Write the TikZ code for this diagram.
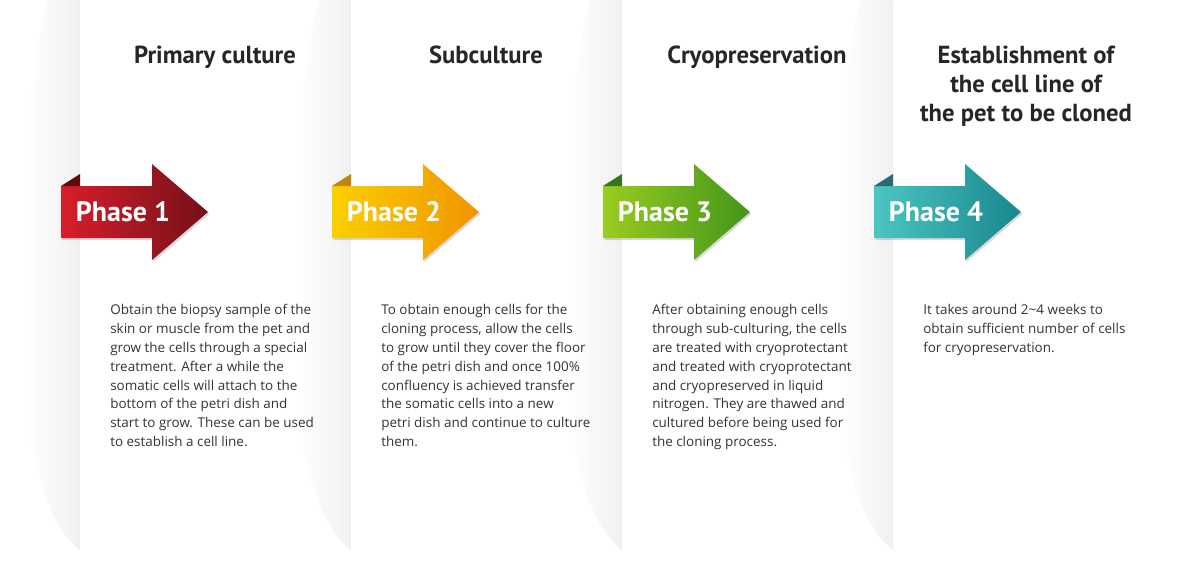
\documentclass[tikz,border=0pt]{standalone}
\usepackage{fontspec}
\setmainfont{Open Sans}
\newfontfamily\headfont{PT Sans}
\usetikzlibrary{shadows,fadings,positioning}

\definecolor{ph1a}{HTML}{D81E2B}
\definecolor{ph1b}{HTML}{741018}
\definecolor{ph1f}{HTML}{5E0B10}
\definecolor{ph2a}{HTML}{FAD000}
\definecolor{ph2b}{HTML}{F09400}
\definecolor{ph2f}{HTML}{C4820E}
\definecolor{ph3a}{HTML}{9ACC20}
\definecolor{ph3b}{HTML}{43961A}
\definecolor{ph3f}{HTML}{3A7418}
\definecolor{ph4a}{HTML}{4CC6C2}
\definecolor{ph4b}{HTML}{18878F}
\definecolor{ph4f}{HTML}{276C72}

\pgfdeclarehorizontalshading{panelshadow}{100bp}{color(0bp)=(white); color(30bp)=(white); color(70bp)=(black!5); color(100bp)=(black!12)}
\pgfdeclareverticalshading{tbmask}{100bp}{color(0bp)=(transparent!100); color(14bp)=(transparent!0); color(86bp)=(transparent!0); color(100bp)=(transparent!100)}
\pgfdeclarefading{fadetb}{\pgfuseshading{tbmask}}

\begin{document}
\begin{tikzpicture}[
    x=0.75pt, y=-0.75pt,
    panelshade/.style={shading=panelshadow, path fading=fadetb, draw=none},
    phaselabel/.style={text=white, font=\headfont\bfseries\fontsize{21}{24}\selectfont},
    titlelabel/.style={font=\headfont\bfseries\fontsize{18.5}{21.75}\selectfont, text=black!85, align=center},
    bodytext/.style={font=\fontsize{10.1}{14.15}\selectfont, text=black!80, align=left, anchor=north west, inner sep=0pt}
]
    \useasboundingbox (0,0) rectangle (1200,576);
    \fill[white] (0,0) rectangle (1200,576);

    % Panel shadows
    \foreach \k in {0,1,2,3} {
        \shade[panelshade, xshift={\k*203.25pt}] (80,0) -- (48,0) .. controls (30,60) and (22,200) .. (22,300) .. controls (22,420) and (36,515) .. (80,550) -- cycle;
    }

    % Arrows
    \foreach \k/\ca/\cb/\cf in {0/ph1a/ph1b/ph1f, 1/ph2a/ph2b/ph2f, 2/ph3a/ph3b/ph3f, 3/ph4a/ph4b/ph4f} {
        \begin{scope}[xshift={\k*203.25pt}]
            \path[drop shadow={opacity=0.3, shadow xshift=1pt, shadow yshift=-1.5pt}, left color=\ca, right color=\cb]
                (61,186) -- (152,186) -- (152,164) -- (208,212) -- (152,260) -- (152,238) -- (61,238) -- cycle;
            \fill[\cf] (61,186) -- (80,174) -- (80,186) -- cycle;
        \end{scope}
    }
    \foreach \k/\n in {0/1, 1/2, 2/3, 3/4}
        \node[phaselabel] (phase\n) at ({123+271*\k},212) {Phase \n};

    % Titles
    \node[titlelabel, anchor=base] (title1) at (215,63) {Primary culture};
    \node[titlelabel, anchor=base] (title2) at (486,63) {Subculture};
    \node[titlelabel, anchor=base] (title3) at (757,63) {Cryopreservation};
    \node[titlelabel] (title4) at (1026,86) {Establishment of\\the cell line of\\the pet to be cloned};

    % Descriptions
    \node[bodytext] (body1) at (110,304) {Obtain the biopsy sample of the\\skin or muscle from the pet and\\grow the cells through a special\\treatment. After a while the\\somatic cells will attach to the\\bottom of the petri dish and\\start to grow. These can be used\\to establish a cell line.};
    \node[bodytext] (body2) at (381,304) {To obtain enough cells for the\\cloning process, allow the cells\\to grow until they cover the floor\\of the petri dish and once 100\%\\confluency is achieved transfer\\the somatic cells into a new\\petri dish and continue to culture\\them.};
    \node[bodytext] (body3) at (652,304) {After obtaining enough cells\\through sub-culturing, the cells\\are treated with cryoprotectant\\and treated with cryoprotectant\\and cryopreserved in liquid\\nitrogen. They are thawed and\\cultured before being used for\\the cloning process.};
    \node[bodytext] (body4) at (923,304) {It takes around 2\textasciitilde4 weeks to\\obtain sufficient number of cells\\for cryopreservation.};

\end{tikzpicture}
\end{document}
